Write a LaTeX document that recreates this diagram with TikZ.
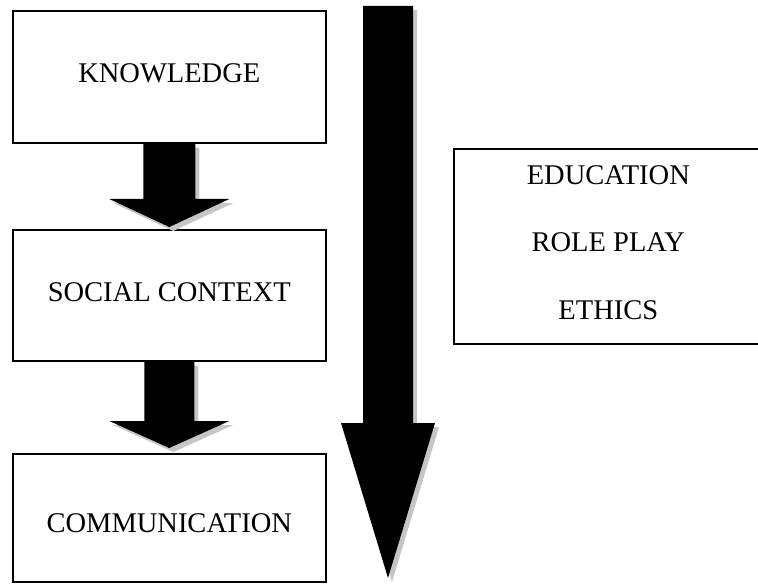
\documentclass[tikz,border=0pt]{standalone}
\usepackage{fontspec}
\setmainfont{Liberation Serif}
\usetikzlibrary{positioning,calc}
\tikzset{
  stage/.style={
    draw,
    line width=1.6pt,
    minimum width=313pt,
    minimum height=132pt,
    inner sep=0pt,
    font=\fontsize{28.5}{34}\selectfont
  },
  topics/.style={
    draw,
    line width=1.6pt,
    minimum width=309pt,
    minimum height=195pt,
    inner sep=0pt
  },
  topictext/.style={
    align=center,
    inner sep=0pt,
    font=\fontsize{28.5}{67.5}\selectfont
  },
  blockarrow/.style={
    fill=black,
    preaction={fill=gray!45, transform canvas={shift={(4pt,-4pt)}}}
  }
}
% block arrow pointing down: top, tip, shaft half width, head half width, head length
\newcommand{\downblock}[5]{%
  \fill[blockarrow] ($(#1)+(-#3,0)$) -- ($(#1)+(#3,0)$) -- ($(#2)+(#3,-#5)$)
    -- ($(#2)+(#4,-#5)$) -- (#2) -- ($(#2)+(-#4,-#5)$) -- ($(#2)+(-#3,-#5)$) -- cycle;}

\begin{document}
\begin{tikzpicture}[x=1pt,y=-1pt]
  \useasboundingbox (0,0) rectangle (758,585);
  \clip (0,0) rectangle (758,585);

  % the three stages
  \node[stage, anchor=north west, text height=20pt, text depth=9pt] (know) at (12,10) {KNOWLEDGE};
  \node[stage, anchor=north west, minimum height=131pt, text height=20pt, text depth=8pt] (social) at (12,229) {SOCIAL CONTEXT};
  \node[stage, anchor=north west, minimum height=128pt, text height=29pt, text depth=0pt] (comm) at (12,453) {COMMUNICATION};

  % side box
  \node[topics, anchor=north west,
        label={[topictext, yshift=4pt]center:EDUCATION\\ROLE PLAY\\ETHICS}] (side) at (453,148) {};

  % arrows between the stages
  \coordinate (tipA) at ($(social.north)+(0,-2)$);
  \coordinate (tipB) at ($(comm.north)+(0,-5)$);
  \downblock{know.south}{tipA}{26}{60}{28}
  \downblock{social.south}{tipB}{25}{60}{27}

  % long arrow alongside
  \coordinate (flowtop) at (388,6);
  \coordinate (flowtip) at (388,578);
  \downblock{flowtop}{flowtip}{25}{47}{155}
\end{tikzpicture}
\end{document}
